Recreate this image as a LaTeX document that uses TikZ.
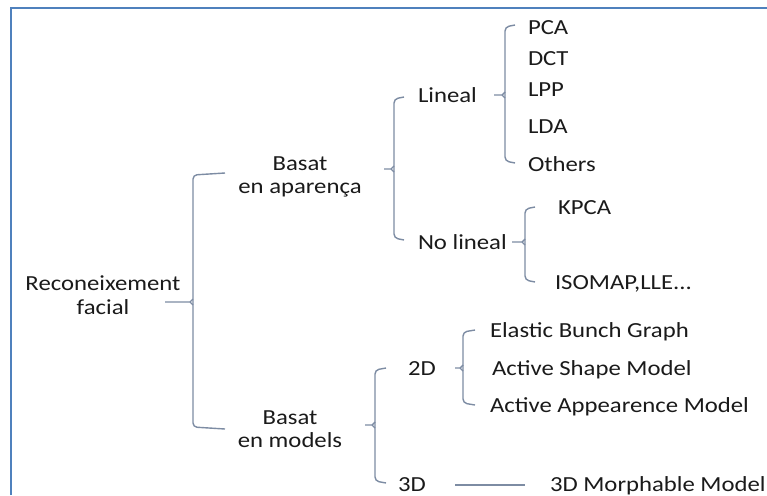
\documentclass[tikz,border=0pt]{standalone}
\usepackage{fontspec}
\setmainfont{Carlito}[FakeStretch=1.15]
\definecolor{framecol}{HTML}{4F81BD}
\definecolor{bracecol}{HTML}{7D8CA3}
\definecolor{inkcol}{HTML}{1A1A1A}
\tikzset{
  lbl/.style={inner sep=0pt, outer sep=0pt, text=inkcol, font=\fontsize{21.5}{23.5}\selectfont},
  item/.style={lbl, anchor=base west},
  pair/.style={lbl, align=center, anchor=center},
  brk/.style={draw=bracecol, line width=1.4pt, rounded corners=4pt},
  tick/.style={draw=bracecol, line width=1.4pt},
  edge/.style={draw=framecol, line width=2.4pt}
}
% tree brace: x, top, bottom, mid, tick end (left), hook end (right)
\newcommand\treebrace[6]{%
  \draw[brk] (#6,#2) -- (#1,#2+2) -- (#1,#3-2) -- (#6,#3);
  \draw[tick] (#5,#4) -- (#1-3,#4) -- (#1,#4-3);
  \draw[tick] (#1-3,#4) -- (#1,#4+3);
}
\begin{document}
\begin{tikzpicture}[x=1pt,y=-1pt]
\useasboundingbox (0,0) rectangle (767,495);
% frame edges
\draw[edge] (11,495) -- (11,8) -- (767,8);

% labels
\node[pair] (root) at (103,295) {Reconeixement\\facial};
\node[pair] (app)  at (300,177) {Basat\\en aparença};
\node[pair] (mod)  at (290,429) {Basat\\en models};

\node[item] (lin)  at (418,102) {Lineal};
\node[item] (nlin) at (418,249) {No lineal};

\node[item] (pca)    at (528,35)  {PCA};
\node[item] (dct)    at (528,65)  {DCT};
\node[item] (lpp)    at (528,96)  {LPP};
\node[item] (lda)    at (528,133) {LDA};
\node[item] (others) at (528,171) {Others};

\node[item] (kpca)  at (558,214) {KPCA};
\node[item] (isom)  at (555,289) {ISOMAP,LLE...};

\node[item] (twod)   at (408,375) {2D};
\node[item] (threed) at (398,491) {3D};

\node[item] (ebg) at (490,337) {Elastic Bunch Graph};
\node[item] (asm) at (492,375) {Active Shape Model};
\node[item] (aam) at (490,412) {Active Appearence Model};

\node[item] (mm) at (550,491) {3D Morphable Model};

% braces
\treebrace{193}{173}{429}{302}{165}{225}
\treebrace{394}{97}{240}{169}{384}{404}
\treebrace{505}{25}{163}{95}{494}{515}
\treebrace{525}{207}{282}{242}{512}{535}
\treebrace{375}{368}{483}{425}{365}{386}
\treebrace{463}{330}{405}{368}{455}{475}

% single link
\draw[tick] (455,485) -- (525,485);
\end{tikzpicture}
\end{document}
